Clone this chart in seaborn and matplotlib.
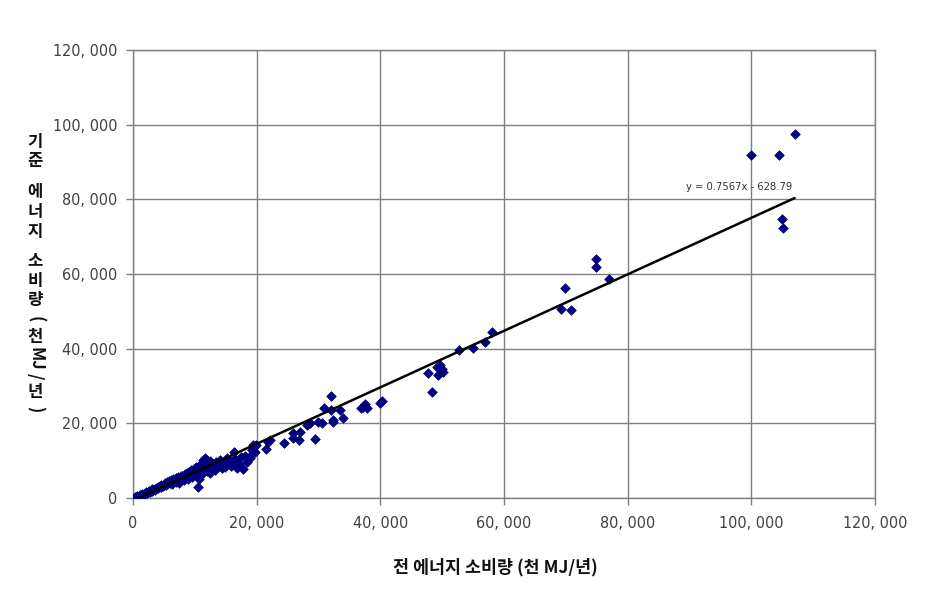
import matplotlib
matplotlib.use("Agg")
import matplotlib.pyplot as plt
import seaborn as sns
import numpy as np
import pandas as pd
from matplotlib.ticker import FuncFormatter

# ---- data (thousand MJ / year) ----
total_energy = [
    0.2, 0.4, 0.5, 0.7, 0.8, 1.0, 1.1, 1.3, 1.5, 1.6, 1.8, 2.0, 2.1, 2.3, 2.5, 2.6, 2.8, 3.0, 3.1, 3.3,
    3.5, 3.6, 3.8, 4.0, 4.1, 4.3, 4.5, 4.6, 4.8, 5.0, 5.2, 5.3, 5.5, 5.7, 5.8, 6.0, 6.2, 6.3, 6.5, 6.7,
    6.9, 7.0, 7.2, 7.4, 7.5, 7.7, 7.9, 8.0, 8.2, 8.4, 8.5, 8.7, 8.9, 9.0, 9.2, 9.4, 9.5, 9.7, 9.9, 10.0,
    10.2, 10.4, 10.5, 10.6, 10.8, 11.0, 11.1, 11.3, 11.4, 11.6, 11.7, 11.9, 12.0, 12.2, 12.4, 12.5, 12.7, 12.9, 13.1, 13.3,
    13.5, 13.8, 14.1, 14.4, 14.7, 14.9, 15.2, 15.5, 15.8, 16.0, 16.3, 16.5, 16.8, 17.1, 17.4, 17.8, 18.1, 18.4, 18.8, 19.0,
    19.3, 19.6, 19.9, 19.4, 19.7,
    21.5, 21.9, 22.1, 24.4, 25.9, 25.9, 26.9, 27.0, 28.1, 28.6, 29.4, 29.9, 30.5, 30.9, 32.1, 32.1, 32.3, 32.3, 33.4, 34.0,
    36.9, 37.2, 37.5, 37.8, 39.9, 40.3,
    47.7, 48.4, 49.1, 49.3, 49.6, 49.9, 50.1, 52.8, 55.0, 56.9, 58.1,
    69.2, 69.9, 70.8, 74.9, 74.9, 77.0,
    100.0, 104.5, 107.0, 104.9, 105.2,
]
base_energy = [
    0.1, 0.3, 0.2, 0.5, 0.4, 0.6, 0.8, 0.7, 1.0, 0.9, 1.2, 1.1, 1.5, 1.4, 1.6, 1.9, 1.7, 2.0, 2.4, 2.2,
    2.5, 2.1, 2.8, 2.6, 3.0, 3.3, 2.9, 3.5, 3.2, 3.6, 4.0, 3.4, 4.2, 3.9, 4.5, 4.1, 4.8, 3.7, 5.0, 4.6,
    5.3, 4.4, 5.6, 5.1, 4.0, 5.8, 5.4, 6.0, 4.9, 6.3, 5.7, 6.6, 5.2, 7.0, 6.1, 7.4, 5.6, 6.8, 7.8, 6.3,
    8.2, 7.1, 3.0, 5.0, 8.8, 7.6, 9.5, 10.3, 6.7, 10.6, 8.4, 9.9, 7.2, 8.8, 10.0, 6.8, 9.3, 7.7, 8.2, 7.5,
    9.6, 8.6, 10.2, 8.0, 9.1, 8.4, 10.7, 9.3, 8.7, 9.8, 12.4, 10.5, 8.0, 9.0, 10.9, 7.9, 11.3, 9.6, 11.0, 10.6,
    12.8, 13.6, 14.3, 14.2, 12.4,
    13.0, 14.9, 15.5, 14.8, 17.3, 16.0, 15.5, 17.8, 19.5, 20.0, 15.8, 20.4, 20.0, 24.1, 27.3, 23.7, 20.9, 20.4, 23.6, 21.5,
    24.0, 24.4, 25.2, 24.0, 25.5, 26.1,
    33.4, 28.4, 35.2, 32.9, 35.6, 34.5, 33.8, 39.6, 40.3, 41.8, 44.5,
    50.6, 56.2, 50.4, 64.0, 61.9, 58.6,
    91.8, 91.8, 97.5, 74.7, 72.3,
]
slope = 0.7567
intercept = -628.79
x_ticks = [0, 20000, 40000, 60000, 80000, 100000, 120000]
y_ticks = [0, 20000, 40000, 60000, 80000, 100000, 120000]
x_label = "전 에너지 소비량 (천 MJ/년)"
y_label_parts = ["기", "준", "에", "너", "지", "소", "비", "량", "(", "천", "MJ", "/", "년", ")"]
equation = "y = 0.7567x - 628.79"

df = pd.DataFrame({"total": np.array(total_energy) * 1000, "base": np.array(base_energy) * 1000})

sns.set_theme(style="white")
kfont = ["Noto Sans CJK KR", "DejaVu Sans"]
plt.rcParams["font.family"] = kfont

fig = plt.figure(figsize=(9.25, 5.95), dpi=100)
ax = fig.add_axes([133 / 925, 1 - 498 / 595, (875 - 133) / 925, (498 - 50) / 595])

ax.set_xlim(0, 120000)
ax.set_ylim(0, 120000)
ax.set_xticks(x_ticks)
ax.set_yticks(y_ticks)
ax.grid(True, color="#7f7f7f", linewidth=1.0)
ax.set_axisbelow(True)
for s in ax.spines.values():
    s.set_color("#7f7f7f")
    s.set_linewidth(1.0)

sns.scatterplot(data=df, x="total", y="base", marker="D", s=24, color="#000080",
                edgecolor="#000080", linewidth=0.5, ax=ax, zorder=3)

xmax = df["total"].max()
xs = np.array([0, xmax])
sns.lineplot(x=xs, y=slope * xs + intercept, color="black", linewidth=1.8, ax=ax, zorder=4)

ax.text(89500, 83200, equation, fontsize=7.2, color="#333333", va="center", ha="left",
        family=["DejaVu Sans"])

fmt = FuncFormatter(lambda v, p: f"{int(v):,}".replace(",", ", "))
ax.xaxis.set_major_formatter(fmt)
ax.yaxis.set_major_formatter(fmt)
ax.tick_params(axis="both", which="major", direction="out", length=5, width=1,
               color="#7f7f7f", labelsize=12, labelcolor="#404040", pad=6)
ax.tick_params(axis="x", bottom=True, pad=8)
ax.tick_params(axis="y", left=True)
for lab in ax.get_xticklabels() + ax.get_yticklabels():
    lab.set_family(["DejaVu Sans"])
    lab.set_fontstretch("condensed")
    lab.set_fontsize(11.5)
ax.set_xlabel("")
ax.set_ylabel("")

fig.text(495 / 925, 1 - 567 / 595, x_label, ha="center", va="center", fontsize=12.5,
         fontweight="bold", color="#111111", family=kfont)

# stacked vertical y label (character centres in pixels from top)
y_centres = [142, 161, 192, 212, 232, 261, 281, 300, 319, 337, 359, 376, 392, 409]
for part, yc in zip(y_label_parts, y_centres):
    rot = -90 if part in ("(", ")", "/", "MJ") else 0
    fig.text(35 / 925, 1 - yc / 595, part, ha="center", va="center", fontsize=12,
             fontweight="bold", color="#111111", rotation=rot, family=kfont)

fig.savefig("out.png", dpi=100)
